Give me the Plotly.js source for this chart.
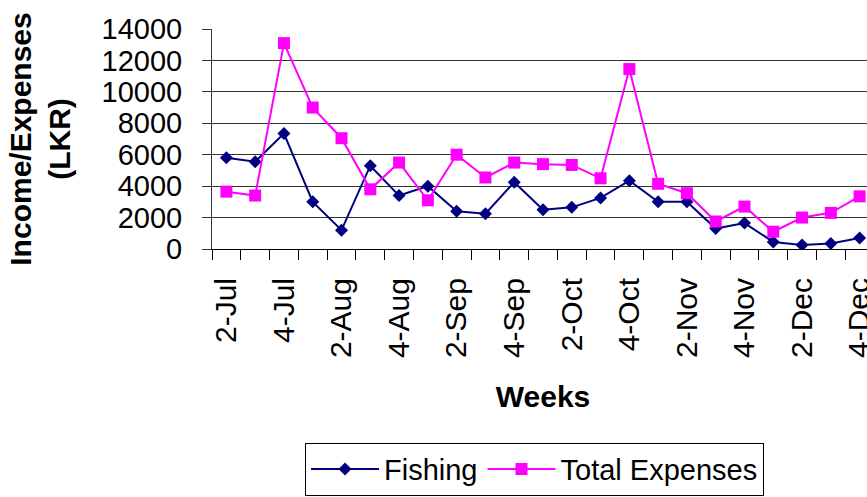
<!DOCTYPE html>
<html>
<head>
<meta charset="utf-8">
<script src="https://cdn.plot.ly/plotly-3.0.1.min.js"></script>
<style>
  html, body { margin: 0; padding: 0; overflow: hidden; background: #fff; }
  #chart { width: 875px; height: 497px; }
</style>
</head>
<body>
<div id="chart"></div>
<script>
const weeks = ['2-Jul','3-Jul','4-Jul','1-Aug','2-Aug','3-Aug','4-Aug','1-Sep','2-Sep','3-Sep','4-Sep','1-Oct','2-Oct','3-Oct','4-Oct','1-Nov','2-Nov','3-Nov','4-Nov','1-Dec','2-Dec','3-Dec','4-Dec'];
const fishing = [5800,5550,7350,3000,1200,5300,3400,4000,2400,2250,4250,2500,2650,3250,4350,3000,3000,1300,1650,450,250,350,700];
const totalExpenses = [3650,3400,13100,9000,7050,3800,5500,3100,6000,4550,5500,5400,5350,4500,11450,4150,3550,1750,2700,1100,2000,2300,3350];
const tickLabels = weeks.map((w, i) => (i % 2 === 0 ? w : ''));

const FONT = 'Liberation Sans, Arial, sans-serif';

const traces = [
  {
    x: weeks, y: fishing, name: 'Fishing', type: 'scatter', mode: 'lines+markers',
    line: { color: '#000080', width: 2 },
    marker: { symbol: 'diamond', size: 10, color: '#000080' }
  },
  {
    x: weeks, y: totalExpenses, name: 'Total Expenses', type: 'scatter', mode: 'lines+markers',
    line: { color: '#FF00FF', width: 2 },
    marker: { symbol: 'square', size: 12, color: '#FF00FF' }
  }
];

const layout = {
  width: 875, height: 497,
  margin: { l: 212, r: 1, t: 29, b: 243 },
  paper_bgcolor: '#fff', plot_bgcolor: '#fff',
  font: { family: FONT, color: '#000' },
  showlegend: true,
  legend: {
    orientation: 'h', x: 0.1405, xanchor: 'left', y: -0.88, yanchor: 'top',
    bgcolor: '#fff', bordercolor: '#000', borderwidth: 1,
    font: { family: FONT, size: 29, color: '#000' },
    itemwidth: 68
  },
  xaxis: {
    type: 'category', categoryorder: 'array', categoryarray: weeks,
    range: [-0.5, 22.5],
    tickmode: 'array', tickvals: weeks, ticktext: tickLabels,
    tickson: 'boundaries', ticks: 'outside', ticklen: 10, tickcolor: '#000', tickwidth: 1,
    tickangle: -90, tickfont: { family: FONT, size: 30, color: '#000' },
    ticklabelstandoff: 16,
    showgrid: false, showline: true, linecolor: '#000', linewidth: 1,
    zeroline: false,
    title: { text: '<b>Weeks</b>', font: { family: FONT, size: 30, color: '#000' }, standoff: 28 }
  },
  yaxis: {
    range: [0, 14000], tickmode: 'linear', tick0: 0, dtick: 2000,
    tickformat: 'd', exponentformat: 'none',
    showgrid: true, gridcolor: '#333', gridwidth: 1,
    showline: true, linecolor: '#333', linewidth: 1,
    ticks: 'outside', ticklen: 9, tickcolor: '#333',
    tickfont: { family: FONT, size: 29, color: '#000' },
    ticklabelstandoff: 14,
    zeroline: false,
    title: { text: '<b>Income/Expenses<br>(LKR)</b>', font: { family: FONT, size: 30, color: '#000' }, standoff: 22 }
  }
};

Plotly.newPlot('chart', traces, layout, { displayModeBar: false, staticPlot: true });
</script>
</body>
</html>
